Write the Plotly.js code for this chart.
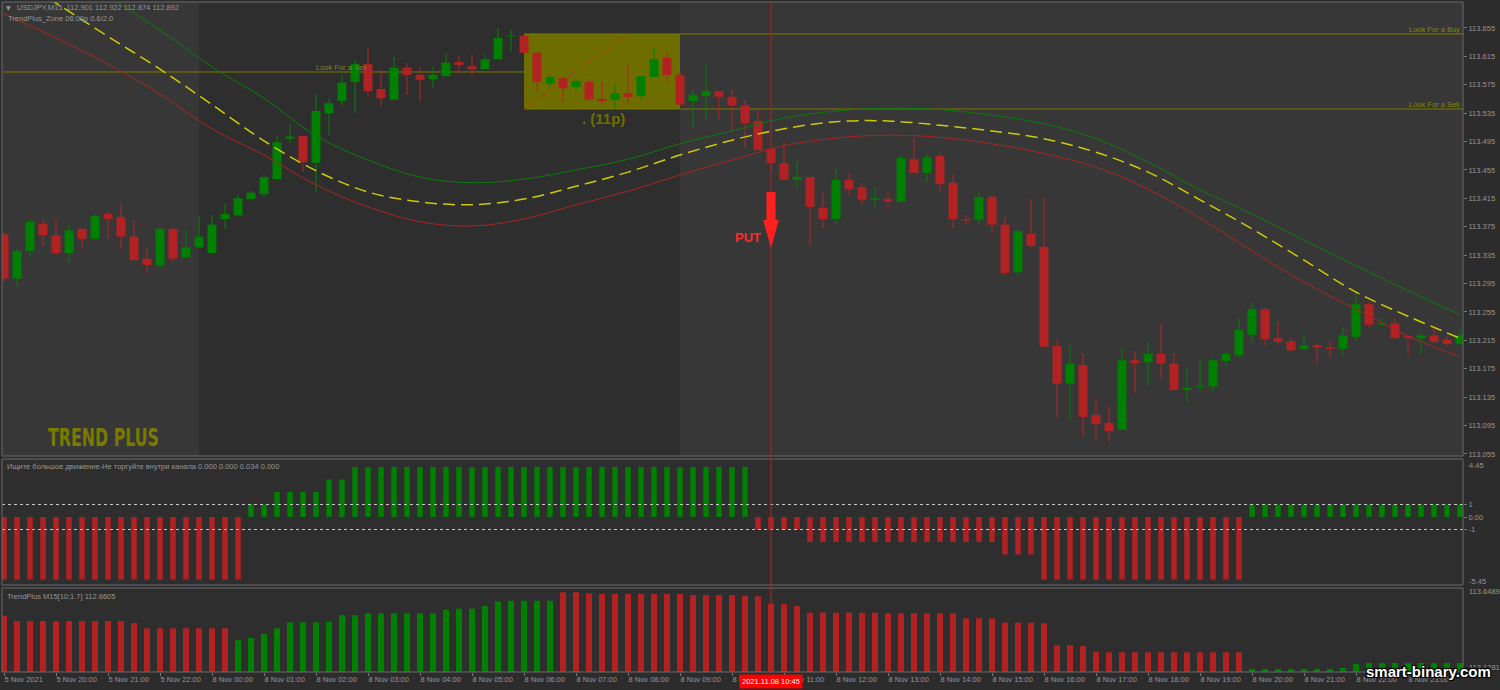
<!DOCTYPE html>
<html>
<head>
<meta charset="utf-8">
<script src="https://cdn.plot.ly/plotly-3.0.1.min.js"></script>
<style>
html,body{margin:0;padding:0;background:#2c2c2c;}
#chart{width:1500px;height:690px;}
</style>
</head>
<body>
<div id="chart"></div>
<script>
// ---------------- DATA ----------------
const candleOpen = [
113.364,113.302,113.341,113.379,113.363,113.338,113.372,113.358,113.393,113.389,
113.361,113.330,113.321,113.372,113.332,113.346,113.338,113.386,113.391,113.414,
113.421,113.442,113.499,113.503,113.465,113.535,113.552,113.579,113.604,113.569,
113.554,113.599,113.589,113.583,113.587,113.607,113.601,113.597,113.611,113.643,
113.644,113.620,113.577,113.584,113.572,113.579,113.555,113.554,113.563,113.559,
113.586,113.613,113.589,113.552,113.559,113.566,113.558,113.546,113.524,113.485,
113.465,113.441,113.445,113.402,113.386,113.441,113.431,113.413,113.414,113.410,
113.470,113.451,113.475,113.437,113.386,113.385,113.417,113.378,113.311,113.365,
113.347,113.207,113.154,113.180,113.110,113.099,113.089,113.187,113.184,113.196,
113.182,113.145,113.149,113.150,113.186,113.194,113.223,113.259,113.218,113.214,
113.203,113.208,113.205,113.203,113.220,113.266,113.237,113.239,113.221,113.218,
113.222,113.216,113.210];
const candleHigh = [
113.366,113.343,113.386,113.386,113.387,113.379,113.373,113.393,113.397,113.408,
113.385,113.345,113.373,113.373,113.370,113.390,113.392,113.408,113.420,113.426,
113.449,113.503,113.521,113.503,113.562,113.556,113.589,113.610,113.628,113.597,
113.614,113.606,113.600,113.601,113.620,113.616,113.617,113.618,113.655,113.653,
113.645,113.621,113.589,113.587,113.583,113.583,113.580,113.577,113.604,113.588,
113.628,113.621,113.593,113.569,113.606,113.566,113.568,113.554,113.541,113.486,
113.496,113.467,113.445,113.423,113.456,113.451,113.437,113.431,113.424,113.476,
113.500,113.479,113.479,113.449,113.392,113.425,113.420,113.389,113.372,113.414,
113.416,113.215,113.207,113.197,113.135,113.123,113.204,113.200,113.213,113.238,
113.197,113.175,113.187,113.190,113.201,113.247,113.268,113.262,113.241,113.218,
113.224,113.211,113.215,113.234,113.283,113.269,113.248,113.246,113.221,113.226,
113.234,113.222,113.232];
const candleLow = [
113.298,113.291,113.332,113.349,113.335,113.325,113.345,113.357,113.359,113.344,
113.328,113.310,113.316,113.327,113.332,113.346,113.338,113.372,113.391,113.413,
113.417,113.442,113.493,113.452,113.424,113.503,113.544,113.535,113.558,113.544,
113.554,113.561,113.552,113.570,113.587,113.592,113.587,113.597,113.611,113.621,
113.619,113.566,113.572,113.551,113.565,113.554,113.549,113.541,113.549,113.555,
113.586,113.578,113.547,113.515,113.528,113.527,113.508,113.486,113.483,113.455,
113.441,113.431,113.349,113.373,113.379,113.419,113.406,113.400,113.400,113.410,
113.451,113.438,113.425,113.373,113.378,113.379,113.366,113.307,113.307,113.344,
113.206,113.106,113.104,113.080,113.076,113.072,113.089,113.141,113.152,113.161,
113.145,113.128,113.143,113.143,113.179,113.190,113.213,113.207,113.207,113.201,
113.203,113.183,113.191,113.194,113.214,113.233,113.236,113.218,113.193,113.195,
113.211,113.206,113.209];
const candleClose = [
113.302,113.341,113.382,113.363,113.338,113.370,113.358,113.390,113.386,113.361,
113.328,113.321,113.372,113.330,113.346,113.361,113.378,113.393,113.415,113.423,
113.445,113.494,113.502,113.466,113.538,113.549,113.578,113.604,113.566,113.556,
113.599,113.589,113.582,113.589,113.606,113.603,113.597,113.611,113.641,113.644,
113.620,113.579,113.586,113.570,113.580,113.554,113.552,113.563,113.558,113.587,
113.611,113.589,113.547,113.561,113.566,113.558,113.546,113.521,113.483,113.465,
113.441,113.445,113.403,113.386,113.441,113.428,113.413,113.415,113.410,113.472,
113.451,113.473,113.435,113.386,113.384,113.417,113.378,113.310,113.369,113.348,
113.206,113.154,113.182,113.107,113.097,113.087,113.187,113.183,113.196,113.182,
113.145,113.148,113.151,113.187,113.196,113.230,113.259,113.217,113.213,113.201,
113.208,113.205,113.203,113.222,113.266,113.237,113.239,113.218,113.218,113.222,
113.213,113.210,113.222];

// smoothed channel lines, sampled every 4 bars
const maIdx = [0,4,8,12,16,20,24,28,32,36,40,44,48,52,56,60,64,68,72,76,80,84,88,92,96,100,104,108,112];
const channelUpper = [113.800,113.749,113.700,113.652,113.600,113.556,113.503,113.469,113.445,113.437,
  113.442,113.455,113.470,113.492,113.510,113.528,113.538,113.542,113.540,113.532,
  113.520,113.499,113.466,113.427,113.393,113.356,113.320,113.285,113.251];
const channelMid = [113.738,113.690,113.643,113.597,113.547,113.496,113.454,113.424,113.410,113.406,
  113.414,113.432,113.452,113.476,113.497,113.513,113.523,113.524,113.518,113.510,
  113.499,113.480,113.452,113.413,113.372,113.328,113.283,113.249,113.218];
const channelLower = [113.675,113.641,113.604,113.562,113.513,113.476,113.434,113.403,113.382,113.376,
  113.386,113.406,113.425,113.448,113.469,113.489,113.500,113.504,113.501,113.492,
  113.478,113.459,113.428,113.387,113.341,113.297,113.259,113.221,113.192];

// indicator 1 histogram
const moveSignal = [
-5,-5,-5,-5,-5,-5,-5,-5,-5,-5,
-5,-5,-5,-5,-5,-5,-5,-5,-5,1,
1,2,2,2,2,3,3,4,4,4,
4,4,4,4,4,4,4,4,4,4,
4,4,4,4,4,4,4,4,4,4,
4,4,4,4,4,4,4,4,-1,-1,
-1,-1,-2,-2,-2,-2,-2,-2,-2,-2,
-2,-2,-2,-2,-2,-2,-2,-3,-3,-3,
-5,-5,-5,-5,-5,-5,-5,-5,-5,-5,
-5,-5,-5,-5,-5,-5,1,1,1,1,
1,1,1,1,1,1,1,1,1,1,
1,1,1];

// indicator 2 histogram (TrendPlus)
const trendValue = [
113.477,113.444,113.444,113.444,113.444,113.444,113.444,113.444,113.444,113.444,
113.432,113.399,113.399,113.399,113.399,113.399,113.399,113.399,113.325,113.339,
113.364,113.399,113.436,113.436,113.436,113.440,113.481,113.481,113.492,113.492,
113.492,113.492,113.492,113.492,113.514,113.521,113.521,113.537,113.566,113.570,
113.570,113.570,113.570,113.622,113.622,113.616,113.612,113.612,113.612,113.612,
113.612,113.612,113.612,113.605,113.605,113.605,113.605,113.601,113.597,113.552,
113.550,113.537,113.496,113.496,113.496,113.496,113.496,113.496,113.492,113.492,
113.492,113.492,113.492,113.492,113.461,113.461,113.461,113.434,113.434,113.434,
113.430,113.294,113.294,113.289,113.254,113.250,113.250,113.250,113.250,113.250,
113.250,113.250,113.250,113.250,113.250,113.250,113.147,113.147,113.147,113.147,
113.147,113.147,113.147,113.153,113.178,113.184,113.184,113.184,113.184,113.184,
113.184,113.184,113.184];
const trendDir = [
'D','D','D','D','D','D','D','D','D','D',
'D','D','D','D','D','D','D','D','U','U',
'U','U','U','U','U','U','U','U','U','U',
'U','U','U','U','U','U','U','U','U','U',
'U','U','U','D','D','D','D','D','D','D',
'D','D','D','D','D','D','D','D','D','D',
'D','D','D','D','D','D','D','D','D','D',
'D','D','D','D','D','D','D','D','D','D',
'D','D','D','D','D','D','D','D','D','D',
'D','D','D','D','D','D','U','U','U','U',
'U','U','U','U','U','U','U','U','U','U',
'U','U','U'];
const trendBase = 113.1281;
const trendTop = 113.6489;

// axis ticks
const timeTickIdx = [0,4,8,12,16,20,24,28,32,36,40,44,48,52,56,60,64,68,72,76,80,84,88,92,96,100,104,108,112];
const timeTickText = ['5 Nov 2021','5 Nov 20:00','5 Nov 21:00','5 Nov 22:00','8 Nov 00:00','8 Nov 01:00','8 Nov 02:00',
  '8 Nov 03:00','8 Nov 04:00','8 Nov 05:00','8 Nov 06:00','8 Nov 07:00','8 Nov 08:00','8 Nov 09:00','8 Nov 10:00',
  '8 Nov 11:00','8 Nov 12:00','8 Nov 13:00','8 Nov 14:00','8 Nov 15:00','8 Nov 16:00','8 Nov 17:00','8 Nov 18:00',
  '8 Nov 19:00','8 Nov 20:00','8 Nov 21:00','8 Nov 22:00','8 Nov 23:00','9 Nov 00:00'];
const priceTicks = [113.055,113.095,113.135,113.175,113.215,113.255,113.295,113.335,113.375,113.415,113.455,113.495,113.535,113.575,113.615,113.655];
const priceTickText = ['113.055','113.095','113.135','113.175','113.215','113.255','113.295','113.335','113.375','113.415','113.455','113.495','113.535','113.575','113.615','113.655'];

// zone / signal info
const zoneStart = 40, zoneEnd = 52, zoneHigh = 113.6465, zoneLow = 113.5409;
const prevZoneLevel = 113.593;
const sessionBreaks = [15, 52];
const putIndex = 59, putPrice = 113.424;
const cursorLabel = '2021.11.08 10:45';

// ---------------- DRAWING ----------------
const PL=2, PR=1463, PT=2, PB=672;
const fx = x => (x-PL)/(PR-PL);
const fy = y => (PB-y)/(PB-PT);
const GREEN='#008000', RED='#b22222', OLIVE='#6e6e00', OLIVE_LINE='#7a7a00', OLIVE_TXT='#858510';
const TXT='#969696';
const FONT='Liberation Sans, Arial, sans-serif';
const idx = candleOpen.map((_,i)=>i);
const upI = idx.filter(i => candleClose[i] >= candleOpen[i]);
const dnI = idx.filter(i => candleClose[i] < candleOpen[i]);
const MINH = 0.0015;

function wicks(list){const x=[],y=[];list.forEach(i=>{x.push(i,i,null);y.push(candleLow[i],candleHigh[i],null);});return {x,y};}
const wu = wicks(upI), wd = wicks(dnI);

const traces = [];
traces.push({type:'scatter',mode:'text',x:[24],y:[prevZoneLevel],text:['Look For a Sell'],textposition:'top right',
  textfont:{family:FONT,size:7.5,color:OLIVE_TXT},hoverinfo:'skip',xaxis:'x',yaxis:'y'});
traces.push({type:'scatter',mode:'lines',x:wu.x,y:wu.y,line:{color:GREEN,width:1},hoverinfo:'skip',xaxis:'x',yaxis:'y'});
traces.push({type:'scatter',mode:'lines',x:wd.x,y:wd.y,line:{color:RED,width:1},hoverinfo:'skip',xaxis:'x',yaxis:'y'});
traces.push({type:'bar',x:upI,base:upI.map(i=>candleOpen[i]),y:upI.map(i=>Math.max(candleClose[i]-candleOpen[i],MINH)),
  width:0.69,marker:{color:GREEN,line:{width:0}},hoverinfo:'skip',xaxis:'x',yaxis:'y'});
traces.push({type:'bar',x:dnI,base:dnI.map(i=>candleClose[i]),y:dnI.map(i=>Math.max(candleOpen[i]-candleClose[i],MINH)),
  width:0.69,marker:{color:RED,line:{width:0}},hoverinfo:'skip',xaxis:'x',yaxis:'y'});
traces.push({type:'scatter',mode:'lines',x:maIdx,y:channelUpper,line:{color:'#0b7a0b',width:1,shape:'spline'},hoverinfo:'skip',xaxis:'x',yaxis:'y'});
traces.push({type:'scatter',mode:'lines',x:maIdx,y:channelLower,line:{color:'#a82424',width:1,shape:'spline'},hoverinfo:'skip',xaxis:'x',yaxis:'y'});
traces.push({type:'scatter',mode:'lines',x:maIdx,y:channelMid,line:{color:'#cccc00',width:1.5,shape:'spline',dash:'12px,6px'},hoverinfo:'skip',xaxis:'x',yaxis:'y'});
traces.push({type:'bar',x:idx,y:moveSignal,width:0.42,marker:{color:moveSignal.map(v=>v>0?GREEN:RED),line:{width:0}},hoverinfo:'skip',xaxis:'x',yaxis:'y2'});
traces.push({type:'bar',x:idx,base:trendBase,y:trendValue.map(v=>v-trendBase),width:0.46,
  marker:{color:trendDir.map(d=>d==='U'?GREEN:RED),line:{width:0}},hoverinfo:'skip',xaxis:'x',yaxis:'y3'});

const mainDom=[fy(456),1], p1Dom=[fy(585),fy(459)], p2Dom=[0,fy(588)];
const FRAME='#6a6a6a';
const shapes = [
  {type:'rect',layer:'below',xref:'x',yref:'y domain',x0:-2,x1:sessionBreaks[0],y0:0,y1:1,fillcolor:'#373737',line:{width:0}},
  {type:'rect',layer:'below',xref:'x',yref:'y domain',x0:sessionBreaks[1],x1:120,y0:0,y1:1,fillcolor:'#373737',line:{width:0}},
  {type:'rect',layer:'below',xref:'x',yref:'y',x0:zoneStart,x1:zoneEnd,y0:zoneLow,y1:zoneHigh,fillcolor:OLIVE,line:{width:0}},
  {type:'line',layer:'below',xref:'x',yref:'y',x0:zoneStart,x1:120,y0:zoneHigh,y1:zoneHigh,line:{color:OLIVE_LINE,width:1}},
  {type:'line',layer:'below',xref:'x',yref:'y',x0:zoneStart,x1:120,y0:zoneLow,y1:zoneLow,line:{color:OLIVE_LINE,width:1}},
  {type:'line',layer:'below',xref:'x',yref:'y',x0:-2,x1:zoneStart,y0:prevZoneLevel,y1:prevZoneLevel,line:{color:OLIVE_LINE,width:1}},
  {type:'line',layer:'below',xref:'x',yref:'y',x0:zoneStart,x1:48,y0:zoneLow,y1:zoneHigh,line:{color:'#d02020',width:1,dash:'dot'}},
  {type:'line',layer:'above',xref:'x',yref:'y2',x0:-2,x1:120,y0:1,y1:1,line:{color:'#c8c8c8',width:1,dash:'dot'}},
  {type:'line',layer:'above',xref:'x',yref:'y2',x0:-2,x1:120,y0:-1,y1:-1,line:{color:'#c8c8c8',width:1,dash:'dot'}},
  {type:'rect',layer:'above',xref:'paper',yref:'paper',x0:0,x1:1,y0:mainDom[0],y1:mainDom[1],line:{color:FRAME,width:1}},
  {type:'rect',layer:'above',xref:'paper',yref:'paper',x0:0,x1:1,y0:p1Dom[0],y1:p1Dom[1],line:{color:FRAME,width:1}},
  {type:'rect',layer:'above',xref:'paper',yref:'paper',x0:0,x1:1,y0:p2Dom[0],y1:p2Dom[1],line:{color:FRAME,width:1}},
  {type:'line',layer:'above',xref:'x',yref:'paper',x0:putIndex,x1:putIndex,y0:0,y1:1,line:{color:'#b02020',width:1}},
  {type:'rect',layer:'above',xref:'x',yref:'y',x0:putIndex-0.35,x1:putIndex+0.35,y0:putPrice-0.0394,y1:putPrice,fillcolor:'#ff2020',line:{width:0}},
  {type:'path',layer:'above',xref:'x',yref:'y',path:`M ${putIndex-0.6},${putPrice-0.0394} L ${putIndex+0.6},${putPrice-0.0394} L ${putIndex},${putPrice-0.0788} Z`,fillcolor:'#ff2020',line:{width:0}}
];

const ann = (o) => Object.assign({showarrow:false,xref:'paper',yref:'paper',xanchor:'left',yanchor:'middle',font:{family:FONT,size:7.5,color:TXT}},o);
const annotations = [
  ann({x:fx(4),y:fy(7),text:'▼',font:{family:'DejaVu Sans',size:6,color:TXT}}),
  ann({x:fx(15),y:fy(7.5),text:'USDJPY,M15  112.901 112.922 112.874 112.892'}),
  ann({x:fx(6),y:fy(19),text:'TrendPlus_Zone 06:00p 0.6/2.0'}),
  ann({x:fx(5),y:fy(466),text:'Ищите большое движение-Не торгуйте внутри канала 0.000 0.000 0.034 0.000'}),
  ann({x:fx(5),y:fy(596),text:'TrendPlus M15[10;1.7] 112.8605'}),
  ann({x:fx(1462),y:fy(29.5),xanchor:'right',text:'Look For a Buy',font:{family:FONT,size:7.5,color:OLIVE_TXT}}),
  ann({x:fx(1462),y:fy(104.5),xanchor:'right',text:'Look For a Sell',font:{family:FONT,size:7.5,color:OLIVE_TXT}}),
  ann({x:fx(603),y:fy(119),xanchor:'center',text:'<b>. (11p)</b>',font:{family:FONT,size:15,color:OLIVE}}),
  ann({x:fx(46),y:fy(438),text:'<b>TREND PLUS</b>',font:{family:'DejaVu Sans Condensed, Liberation Sans',size:24,color:'#7a7a00'}}),
  ann({x:fx(763),y:fy(238),xanchor:'right',text:'<b>PUT</b>',font:{family:FONT,size:13,color:'#ff2a2a'}}),
  ann({x:fx(1467),y:fy(465),text:'4.45'}),
  ann({x:fx(1467),y:fy(581),text:'-5.45'}),
  ann({x:fx(1467),y:fy(591),text:'113.6489'}),
  ann({x:fx(1467),y:fy(667),text:'113.1281'}),
  ann({xref:'x',x:putIndex,y:fy(681),xanchor:'center',text:cursorLabel,bgcolor:'#ff0000',borderpad:2,font:{family:FONT,size:7.5,color:'#ffffff'}}),
  ann({x:fx(1493),y:fy(671),xanchor:'right',text:'<b>smart-binary.com</b>',
       font:{family:FONT,size:15,color:'#ffffff',shadow:'1px 1px 1px #000, -1px -1px 1px #000, 1px -1px 1px #000, -1px 1px 1px #000'}})
];

const axisCommon = {showgrid:false,zeroline:false,showline:false,fixedrange:true,tickfont:{family:FONT,size:7.5,color:TXT},tickcolor:'#777',ticklen:3};
const layout = {
  width:1500,height:690,
  margin:{l:PL,r:1500-PR,t:PT,b:690-PB,pad:0},
  paper_bgcolor:'#2c2c2c',plot_bgcolor:'#2e2e2e',
  showlegend:false,barmode:'overlay',
  font:{family:FONT,size:7.5,color:TXT},
  xaxis:Object.assign({},axisCommon,{anchor:'y3',range:[(PL-4)/13,(PR-4)/13],tickmode:'array',tickvals:timeTickIdx,ticktext:timeTickText,
    ticks:'outside',ticklabelposition:'outside right'}),
  yaxis:Object.assign({},axisCommon,{domain:mainDom,anchor:'x',side:'right',range:[113.6944-456/710,113.6944-2/710],
    tickmode:'array',tickvals:priceTicks,ticktext:priceTickText,ticks:'outside'}),
  yaxis2:Object.assign({},axisCommon,{domain:p1Dom,anchor:'x',side:'right',range:[-5.44,4.64],
    tickmode:'array',tickvals:[1,0,-1],ticktext:['1','0.00','-1'],ticks:'outside'}),
  yaxis3:Object.assign({},axisCommon,{domain:p2Dom,anchor:'x',side:'right',range:[trendBase,trendTop],showticklabels:false,ticks:''}),
  shapes, annotations
};
Plotly.newPlot('chart',traces,layout,{staticPlot:true,displayModeBar:false}).then(()=>{
  // squeeze the bold logo text horizontally to match the narrow logo face
  const t=[...document.querySelectorAll('.annotation-text')].find(e=>e.textContent==='TREND PLUS');
  if(t){const bb=t.getBBox(); if(bb.width>0){const s=111/bb.width;
    t.setAttribute('transform',`translate(${bb.x},0) scale(${s},1) translate(${-bb.x},0)`);}}
});
</script>
</body>
</html>
